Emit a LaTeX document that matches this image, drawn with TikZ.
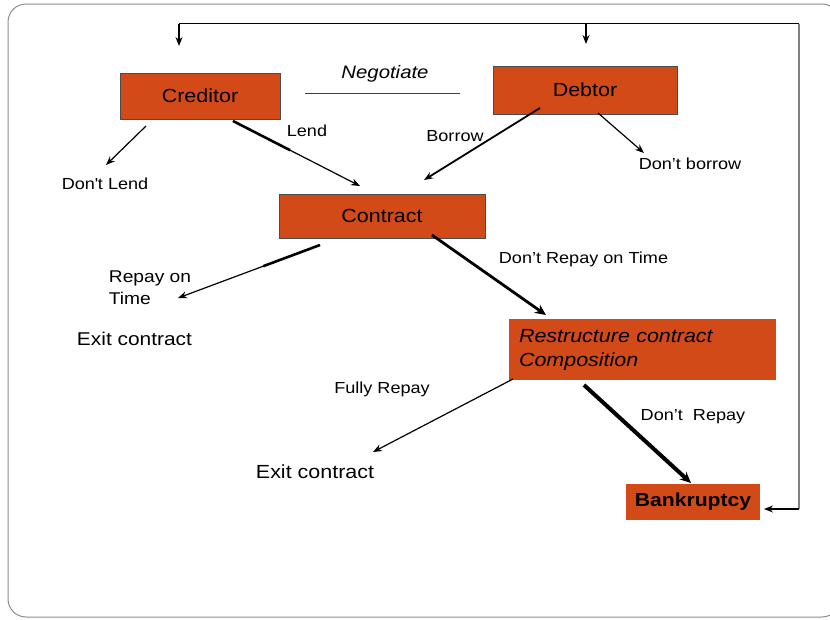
\documentclass[tikz,border=0pt]{standalone}
\usepackage{fontspec}
\setmainfont{Liberation Sans}[FakeStretch=1.13]
\usetikzlibrary{arrows.meta,positioning}
\definecolor{boxred}{RGB}{210,74,24}
\definecolor{framegray}{RGB}{140,140,140}

\begin{document}
\begin{tikzpicture}[x=1pt,y=-1pt,>={Stealth[length=9pt,width=7pt]},
  box/.style={fill=boxred,draw=black!70,line width=0.8pt,inner sep=0pt,font=\fontsize{19}{24}\selectfont},
  plainbox/.style={box,draw=none},
  lbl/.style={inner sep=0pt,font=\fontsize{16}{21.5}\selectfont},
  slim/.style={->,line width=1.2pt},
  heavy/.style={-{Stealth[length=11pt,width=10pt]},line width=2.8pt}]
\useasboundingbox (0,0) rectangle (830,619);
\begin{scope}
\clip (0,0) rectangle (830,619);
\draw[framegray,line width=1pt,rounded corners=18pt] (8,4) rectangle (840,617);
\end{scope}

% boxes
\node (Creditor) [box,minimum width=160pt,minimum height=46pt] at (200,96) {\raisebox{-1.5pt}{Creditor}};
\node (Debtor) [box,minimum width=184pt,minimum height=48pt] at (585,90) {\raisebox{-1.5pt}{Debtor}};
\node (Contract) [box,minimum width=206pt,minimum height=44pt] at (382,216) {\raisebox{-1pt}{Contract}};
\node (Restructure) [plainbox,minimum width=267pt,minimum height=61pt,inner xsep=10pt,text width=247pt,align=left,font=\fontsize{19}{24}\selectfont\itshape] at (642.5,349.5) {Restructure contract\\Composition};
\node (Bankruptcy) [plainbox,minimum width=134pt,minimum height=36pt,font=\fontsize{18.7}{22}\selectfont\bfseries] at (693,502) {Bankruptcy};

% labels
\node (Negotiate) [lbl,font=\fontsize{18}{22}\selectfont\itshape] at (385,74) {Negotiate};
\node (Lend) [lbl] at (307,131) {Lend};
\node (Borrow) [lbl] at (455,136) {Borrow};
\node (DontLend) [lbl] at (105,184) {Don\textquotesingle t Lend};
\node (DontBorrow) [lbl] at (690,164) {Don’t borrow};
\node (RepayOnTime) [lbl,align=left,font=\fontsize{17}{22}\selectfont] at (150,288) {Repay on\\Time};
\node (Exit1) [lbl,font=\fontsize{18.5}{22}\selectfont] at (134.5,339) {Exit contract};
\node (DontRepayOnTime) [lbl] at (583.5,259) {Don’t Repay on Time};
\node (FullyRepay) [lbl] at (382,389) {Fully Repay};
\node (Exit2) [lbl,font=\fontsize{19}{22}\selectfont] at (315,472) {Exit contract};
\node (DontRepay) [lbl] at (693,417) {Don’t\ \ Repay};

\draw[black!75,line width=1pt] ([shift={(25,-3)}]Creditor.east) -- ([shift={(-33,3)}]Debtor.west);

\draw[slim] ([shift={(-54,30)}]Creditor.center) -- ([shift={(1,-19)}]DontLend.center);
\draw[slim] ([shift={(33,25)}]Creditor.center) -- coordinate[pos=0.45] (LendMid) ([shift={(-22,-30)}]Contract.center);
\draw[line width=2.6pt] ([shift={(33,25)}]Creditor.center) -- (LendMid);
\draw[slim,line width=1.8pt] ([shift={(-45,18)}]Debtor.center) -- ([shift={(42,-36)}]Contract.center);
\draw[slim] ([shift={(13,23)}]Debtor.center) -- ([shift={(-46,-11)}]DontBorrow.center);

\draw[slim] ([shift={(-62,29)}]Contract.center) -- coordinate[pos=0.4] (RepayMid) ([shift={(28,10)}]RepayOnTime.center);
\draw[line width=2.6pt] ([shift={(-62,29)}]Contract.center) -- (RepayMid);
\draw[heavy] ([shift={(50,19)}]Contract.center) -- ([shift={(-96.5,-34.5)}]Restructure.center);
\draw[slim] ([shift={(-129.5,29.5)}]Restructure.center) -- ([shift={(58,-20)}]Exit2.center);
\draw[heavy,line width=4pt] ([shift={(-58.5,35.5)}]Restructure.center) -- ([shift={(-2,-19)}]Bankruptcy.center);

% feedback loop
\coordinate (LoopBR) at (799,509);
\coordinate (LoopTR) at (799,23.5);
\coordinate (LoopTL) at (179,23.5);
\coordinate (LoopTM) at (586,23.5);
\draw[gray,line width=1.2pt] (LoopBR) -- (LoopTR);
\draw[line width=1.2pt] (LoopTR) -- (LoopTL);
\draw[slim] (LoopBR) -- ([shift={(71,7)}]Bankruptcy.center);
\draw[slim] (LoopTL) -- ([shift={(-21,-50)}]Creditor.center);
\draw[slim,line width=2pt] (LoopTM) -- ([shift={(1,-46)}]Debtor.center);
\end{tikzpicture}
\end{document}
